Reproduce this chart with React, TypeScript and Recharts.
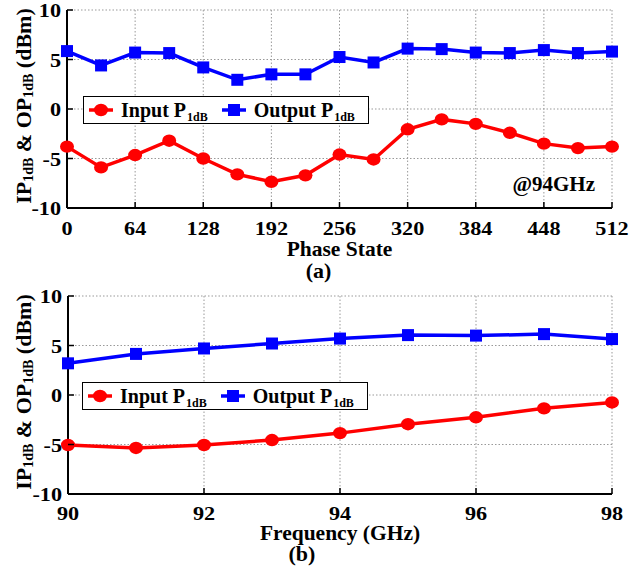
import React from 'react';
import { LineChart, Line, XAxis, YAxis, CartesianGrid, Legend } from 'recharts';

const FONT = '"Liberation Serif", "Times New Roman", serif';
const RED = '#ff0000';
const BLUE = '#0000ff';
const TICK_STRETCH = 1.17;

// (a) P1dB vs phase state at 94 GHz
const phaseStates = [0, 32, 64, 96, 128, 160, 192, 224, 256, 288, 320, 352, 384, 416, 448, 480, 512];
const phaseInput = [-3.8, -5.9, -4.65, -3.2, -5.0, -6.6, -7.35, -6.7, -4.6, -5.1, -2.05, -1.05, -1.5, -2.4, -3.5, -3.95, -3.8];
const phaseOutput = [5.85, 4.4, 5.7, 5.65, 4.2, 2.95, 3.5, 3.5, 5.25, 4.7, 6.1, 6.05, 5.7, 5.65, 5.95, 5.65, 5.8];
const phaseTicks = [0, 64, 128, 192, 256, 320, 384, 448, 512];

// (b) P1dB vs frequency
const freqs = [90, 91, 92, 93, 94, 95, 96, 97, 98];
const freqInput = [-5.05, -5.35, -5.05, -4.55, -3.85, -2.95, -2.25, -1.35, -0.75];
const freqOutput = [3.2, 4.15, 4.7, 5.2, 5.7, 6.05, 6.0, 6.15, 5.65];
const freqTicks = [90, 92, 94, 96, 98];

const powerTicks = [-10, -5, 0, 5, 10];

const phaseData = phaseStates.map((s, i) => ({ x: s, input: phaseInput[i], output: phaseOutput[i] }));
const freqData = freqs.map((f, i) => ({ x: f, input: freqInput[i], output: freqOutput[i] }));

const makeBottomTick = (gap: number) => (props: any) => {
  const { x, y, payload } = props;
  return (
    <g>
      <line x1={x} y1={y} x2={x} y2={y - 6} stroke="#000" strokeWidth={1.5} />
      <text
        transform={`translate(${x},${y + gap}) scale(${TICK_STRETCH},1)`}
        textAnchor="middle"
        fontFamily={FONT}
        fontWeight="bold"
        fontSize={19}
        fill="#000"
      >
        {payload.value}
      </text>
    </g>
  );
};

const LeftTick = (props: any) => {
  const { x, y, payload } = props;
  return (
    <g>
      <line x1={x} y1={y} x2={x + 6} y2={y} stroke="#000" strokeWidth={1.5} />
      <text
        transform={`translate(${x - 6},${y + 7}) scale(${TICK_STRETCH},1)`}
        textAnchor="end"
        fontFamily={FONT}
        fontWeight="bold"
        fontSize={19}
        fill="#000"
      >
        {payload.value}
      </text>
    </g>
  );
};

const TopTick = (props: any) => (
  <line x1={props.x} y1={props.y} x2={props.x} y2={props.y + 6} stroke="#000" strokeWidth={1.5} />
);

const RightTick = (props: any) => (
  <line x1={props.x} y1={props.y} x2={props.x - 6} y2={props.y} stroke="#000" strokeWidth={1.5} />
);

const YLabel = (props: any) => {
  const vb = props.viewBox || { x: 0, y: 0, height: 0 };
  const cx = vb.x + 31;
  const cy = vb.y + vb.height / 2 - 3;
  return (
    <text
      x={cx}
      y={cy}
      transform={`rotate(-90 ${cx} ${cy})`}
      textAnchor="middle"
      fontFamily={FONT}
      fontWeight="bold"
      fontSize={22}
      fill="#000"
    >
      IP<tspan fontSize={14} dy={2}>1dB</tspan>
      <tspan dy={-2}> &amp; OP</tspan>
      <tspan fontSize={14} dy={2}>1dB</tspan>
      <tspan dy={-2}> (dBm)</tspan>
    </text>
  );
};

const XLabel = (props: any) => {
  const vb = props.viewBox || { x: 0, y: 0, width: 0 };
  const cx = vb.x + vb.width / 2;
  return (
    <g fontFamily={FONT} fontWeight="bold" fill="#000">
      <text x={cx} y={vb.y + props.titleGap} textAnchor="middle" fontSize={21.5}>
        {props.title}
      </text>
      <text x={cx + props.tagShift} y={vb.y + props.tagGap} textAnchor="middle" fontSize={22}>
        {props.tag}
      </text>
    </g>
  );
};

const SquareDot = (props: any) => {
  const { cx, cy, index } = props;
  return <rect key={`sq-${index}`} x={cx - 6} y={cy - 6} width={12} height={12} fill={BLUE} />;
};

const RoundDot = (props: any) => {
  const { cx, cy, index } = props;
  return <ellipse key={`ci-${index}`} cx={cx} cy={cy} rx={7} ry={6.2} fill={RED} />;
};

const Sub = ({ children }: { children: React.ReactNode }) => (
  <span style={{ fontSize: 12, position: 'relative', top: 4, marginLeft: 1 }}>{children}</span>
);

const LegendBox = () => (
  <div
    style={{
      boxSizing: 'border-box',
      width: 286,
      height: 28,
      border: '1px solid #000',
      background: '#fff',
      display: 'flex',
      alignItems: 'center',
      paddingLeft: 5,
      fontFamily: FONT,
      fontWeight: 'bold',
      fontSize: 20,
      color: '#000',
      whiteSpace: 'nowrap',
    }}
  >
    <svg width={24} height={16}>
      <line x1={0} y1={8} x2={24} y2={8} stroke={RED} strokeWidth={3.5} />
      <ellipse cx={12} cy={8} rx={7} ry={6.2} fill={RED} />
    </svg>
    <span style={{ marginLeft: 8 }}>
      Input P<Sub>1dB</Sub>
    </span>
    <svg width={24} height={16} style={{ marginLeft: 14 }}>
      <line x1={0} y1={8} x2={24} y2={8} stroke={BLUE} strokeWidth={3.5} />
      <rect x={6} y={2} width={12} height={12} fill={BLUE} />
    </svg>
    <span style={{ marginLeft: 8 }}>
      Output P<Sub>1dB</Sub>
    </span>
  </div>
);

interface PanelProps {
  data: { x: number; input: number; output: number }[];
  xDomain: [number, number];
  xTicks: number[];
  height: number;
  marginTop: number;
  yAxisWidth: number;
  xAxisHeight: number;
  tickGap: number;
  title: string;
  tag: string;
  titleGap: number;
  tagGap: number;
  tagShift: number;
  legendLeft: number;
  legendTop: number;
}

const Panel: React.FC<PanelProps> = (p) => (
  <LineChart
    width={639}
    height={p.height}
    data={p.data}
    margin={{ top: p.marginTop, right: 27, bottom: 0, left: 0 }}
  >
    <CartesianGrid stroke="#999" strokeDasharray="1.5 2" strokeWidth={1} />
    <XAxis
      dataKey="x"
      type="number"
      domain={p.xDomain}
      ticks={p.xTicks}
      interval={0}
      height={p.xAxisHeight}
      axisLine={{ stroke: '#000', strokeWidth: 2 }}
      tickLine={false}
      tickSize={0}
      tickMargin={0}
      tick={makeBottomTick(p.tickGap)}
      label={<XLabel title={p.title} tag={p.tag} titleGap={p.titleGap} tagGap={p.tagGap} tagShift={p.tagShift} />}
    />
    <XAxis
      xAxisId="top"
      dataKey="x"
      type="number"
      orientation="top"
      domain={p.xDomain}
      ticks={p.xTicks}
      interval={0}
      height={0}
      axisLine={{ stroke: '#000', strokeWidth: 2 }}
      tickLine={false}
      tickSize={0}
      tickMargin={0}
      tick={<TopTick />}
    />
    <YAxis
      type="number"
      domain={[-10, 10]}
      ticks={powerTicks}
      interval={0}
      width={p.yAxisWidth}
      axisLine={{ stroke: '#000', strokeWidth: 2 }}
      tickLine={false}
      tickSize={0}
      tickMargin={0}
      tick={<LeftTick />}
      label={<YLabel />}
    />
    <YAxis
      yAxisId="right"
      orientation="right"
      type="number"
      domain={[-10, 10]}
      ticks={powerTicks}
      interval={0}
      width={0}
      axisLine={{ stroke: '#000', strokeWidth: 2 }}
      tickLine={false}
      tickSize={0}
      tickMargin={0}
      tick={<RightTick />}
    />
    <Legend
      layout="horizontal"
      verticalAlign="middle"
      align="center"
      content={() => <LegendBox />}
      wrapperStyle={{ position: 'absolute', left: p.legendLeft, top: p.legendTop, width: 286, height: 28 }}
    />
    <Line
      type="linear"
      dataKey="input"
      name="Input P1dB"
      stroke={RED}
      strokeWidth={3.5}
      dot={<RoundDot />}
      activeDot={false}
      isAnimationActive={false}
    />
    <Line
      type="linear"
      dataKey="output"
      name="Output P1dB"
      stroke={BLUE}
      strokeWidth={3.5}
      dot={<SquareDot />}
      activeDot={false}
      isAnimationActive={false}
    />
  </LineChart>
);

export default function App() {
  return (
    <div style={{ position: 'absolute', left: 0, top: 0, width: 639, height: 569, background: '#fff' }}>
      <div style={{ position: 'absolute', left: 0, top: 0 }}>
        <Panel
          data={phaseData}
          xDomain={[0, 512]}
          xTicks={phaseTicks}
          height={285}
          marginTop={10}
          yAxisWidth={67}
          xAxisHeight={77}
          tickGap={27}
          title="Phase State"
          tag="(a)"
          titleGap={48}
          tagGap={70}
          tagShift={-21}
          legendLeft={83}
          legendTop={96}
        />
      </div>
      <div
        style={{
          position: 'absolute',
          left: 480,
          top: 174,
          width: 115,
          textAlign: 'right',
          fontFamily: FONT,
          fontWeight: 'bold',
          fontSize: 21,
          lineHeight: '21px',
          color: '#000',
        }}
      >
        @94GHz
      </div>
      <div style={{ position: 'absolute', left: 0, top: 285 }}>
        <Panel
          data={freqData}
          xDomain={[90, 98]}
          xTicks={freqTicks}
          height={284}
          marginTop={11}
          yAxisWidth={68}
          xAxisHeight={75}
          tickGap={26}
          title="Frequency (GHz)"
          tag="(b)"
          titleGap={45.5}
          tagGap={67}
          tagShift={-38}
          legendLeft={82}
          legendTop={97}
        />
      </div>
    </div>
  );
}
